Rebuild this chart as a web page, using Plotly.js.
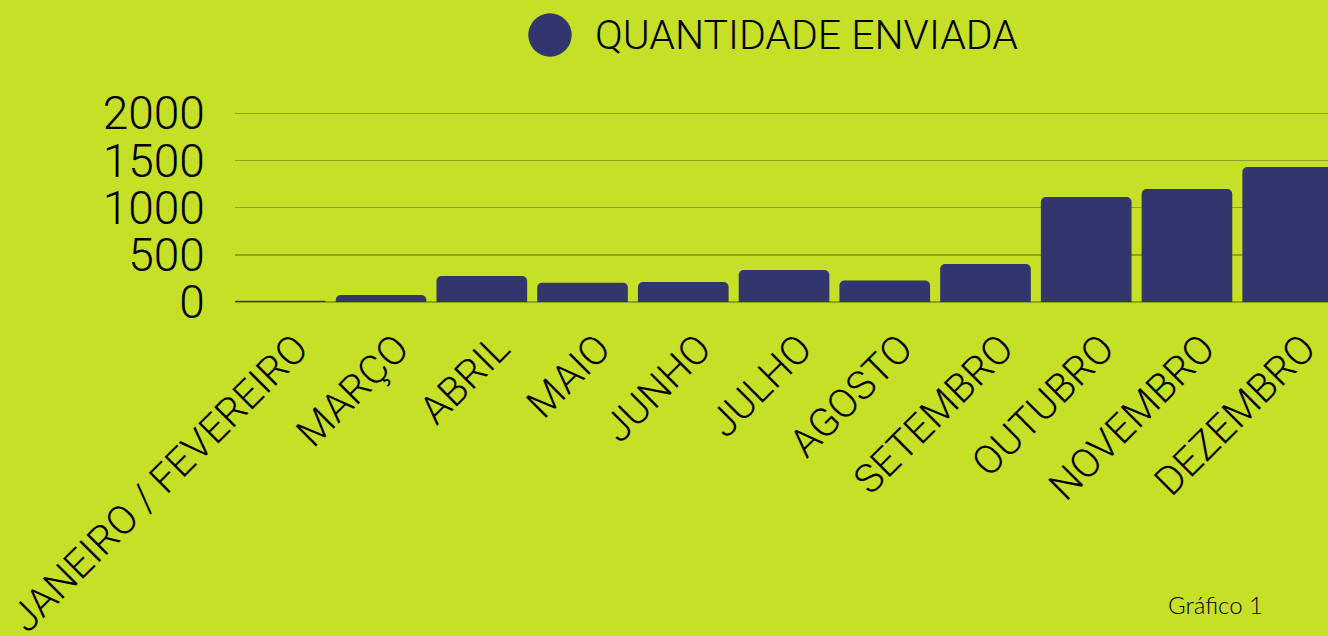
<!DOCTYPE html>
<html>
<head>
<meta charset="utf-8">
<script src="https://cdn.plot.ly/plotly-3.0.1.min.js"></script>
<style>
  html, body { margin: 0; padding: 0; background: #C6DF27; }
  #chart { width: 1328px; height: 636px; }
</style>
</head>
<body>
<div id="chart"></div>
<script>
const categories = ["JANEIRO / FEVEREIRO", "MARÇO", "ABRIL", "MAIO", "JUNHO", "JULHO", "AGOSTO", "SETEMBRO", "OUTUBRO", "NOVEMBRO", "DEZEMBRO"];
const quantidadeEnviada = [14, 74, 275, 205, 212, 340, 228, 402, 1112, 1197, 1430];
const yTickValues = [0, 500, 1000, 1500, 2000];
const seriesName = "QUANTIDADE ENVIADA";
const footnote = "Gráfico 1";

const BG = "#C6DF27";
const BAR = "#31366F";
const GRID = "#8EA31B";

const trace = {
  type: "bar",
  x: categories,
  y: quantidadeEnviada,
  name: seriesName,
  marker: { color: BAR },
  hoverinfo: "x+y",
  showlegend: false
};

const layout = {
  width: 1328,
  height: 636,
  paper_bgcolor: BG,
  plot_bgcolor: BG,
  margin: { l: 235, r: 0, t: 110, b: 334, pad: 0 },
  bargap: 0.1,
  barcornerradius: 5,
  showlegend: false,
  xaxis: {
    type: "category",
    range: [-0.45, 10.4],
    showgrid: false,
    zeroline: false,
    showline: false,
    ticks: "",
    tickangle: -45,
    ticklabelshift: 16,
    ticklabelstandoff: 14,
    tickfont: { family: "Roboto, sans-serif", size: 40, color: "#000", weight: 300 },
    automargin: false,
    fixedrange: true
  },
  yaxis: {
    range: [0, 2035],
    tickvals: yTickValues,
    ticktext: yTickValues.map(String),
    showgrid: true,
    gridcolor: GRID,
    gridwidth: 1.5,
    zeroline: true,
    zerolinecolor: GRID,
    zerolinewidth: 1.5,
    showline: false,
    ticks: "outside",
    ticklen: 20,
    tickcolor: "rgba(0,0,0,0)",
    tickfont: { family: "Roboto, sans-serif", size: 46, color: "#000", weight: 300 },
    automargin: false,
    fixedrange: true
  },
  shapes: [
    {
      type: "circle",
      xref: "paper", yref: "paper",
      x0: 0.2683, x1: 0.3081, y0: 1.2776, y1: 1.5036,
      fillcolor: BAR,
      line: { width: 0 }
    }
  ],
  annotations: [
    {
      text: seriesName,
      xref: "paper", yref: "paper",
      x: 0.3273, y: 1.3906,
      xanchor: "left", yanchor: "middle",
      showarrow: false,
      font: { family: "Roboto, sans-serif", size: 41, color: "#000", weight: 300 }
    },
    {
      text: footnote,
      xref: "paper", yref: "paper",
      x: 0.9424, y: -1.578,
      xanchor: "right", yanchor: "middle",
      showarrow: false,
      font: { family: "Lato, sans-serif", size: 24, color: "#000", weight: 300 }
    }
  ]
};

Plotly.newPlot("chart", [trace], layout, { displayModeBar: false, staticPlot: true });
</script>
</body>
</html>
